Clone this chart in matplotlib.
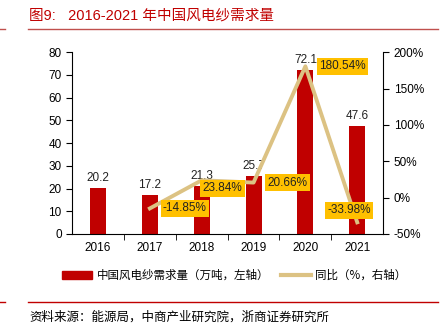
import matplotlib.pyplot as plt
from matplotlib.lines import Line2D
from matplotlib.patches import Patch

plt.rcParams['font.family'] = ['Liberation Sans', 'Noto Sans CJK SC', 'DejaVu Sans']

years = ['2016', '2017', '2018', '2019', '2020', '2021']
demand = [20.2, 17.2, 21.3, 25.7, 72.1, 47.6]
yoy_years = ['2017', '2018', '2019', '2020', '2021']
yoy = [-14.85, 23.84, 20.66, 180.54, -33.98]
# label offsets in pixels (dx, dy) for the yoy boxes
yoy_offsets = [(35, 0), (21, -8), (34, 0), (37, 0), (-8, 12)]

bar_color = '#C00000'
line_color = '#DCC283'
box_color = '#FFC000'
red = '#C0504D'

fig = plt.figure(figsize=(4.45, 3.3), dpi=100)
ax = fig.add_axes([0.162, 0.291, 0.699, 0.551])
ax2 = ax.twinx()

x = list(range(len(years)))
ax.bar(x, demand, width=0.31, color=bar_color, zorder=2)
for xi, v in zip(x, demand):
    ax.annotate(f'{v:.1f}', (xi, v), xytext=(0, 4), textcoords='offset pixels',
                ha='center', va='bottom', fontsize=8.5, color='#222222')

ax.set_xlim(-0.5, len(years) - 0.5)
ax.set_ylim(0, 80)
ax.set_yticks(range(0, 81, 10))
ax.set_xticks(x)
ax.set_xticklabels(years)
ax.set_xticks([i + 0.5 for i in x[:-1]], minor=True)
ax.tick_params(axis='x', which='major', length=0, labelsize=8.5, pad=6)
ax.tick_params(axis='x', which='minor', length=4, direction='out')
ax.tick_params(axis='y', length=4, labelsize=8.5)
for s in ['top', 'right']:
    ax.spines[s].set_visible(False)

xl = [years.index(y) for y in yoy_years]
ax2.plot(xl, yoy, color=line_color, lw=2.8, zorder=3)
ax2.set_ylim(-50, 200)
ax2.set_yticks(range(-50, 201, 50))
ax2.set_yticklabels([f'{v}%' for v in range(-50, 201, 50)])
ax2.tick_params(axis='y', length=4, labelsize=8.5)
for s in ['top', 'left', 'bottom']:
    ax2.spines[s].set_visible(False)
for xi, v, (dx, dy) in zip(xl, yoy, yoy_offsets):
    ax2.annotate(f'{v:.2f}%', (xi, v), xytext=(dx, dy), textcoords='offset pixels',
                 ha='center', va='center', fontsize=8.5, color='#222222',
                 bbox=dict(boxstyle='square,pad=0.2', fc=box_color, ec='none'))

handles = [Patch(color=bar_color), Line2D([0], [0], color=line_color, lw=3)]
labels = ['中国风电纱需求量（万吨，左轴）', '同比（%，右轴）']
fig.legend(handles, labels, loc='center', bbox_to_anchor=(0.527, 0.165), ncol=2,
           frameon=False, handlelength=2.6, handleheight=0.6, handletextpad=0.4,
           columnspacing=1.0, prop={'family': ['Noto Sans CJK SC'], 'size': 8.3})

# header and footer
fig.text(0.065, 0.952, '图9:   2016-2021 年中国风电纱需求量', color='#C00000',
         fontsize=10.5, va='center', ha='left')
fig.add_artist(Line2D([0.063, 0.985], [0.913, 0.913], color=red, lw=1))
fig.add_artist(Line2D([0.0, 0.012], [0.913, 0.913], color=red, lw=1))
fig.add_artist(Line2D([0.063, 0.985], [0.085, 0.085], color='#C00000', lw=1))
fig.add_artist(Line2D([0.0, 0.012], [0.085, 0.085], color='#C00000', lw=1))
fig.text(0.065, 0.04, '资料来源：能源局，中商产业研究院，浙商证券研究所', fontsize=9,
         va='center', ha='left', family=['Noto Sans CJK SC'])

fig.savefig('out.png', dpi=100)
